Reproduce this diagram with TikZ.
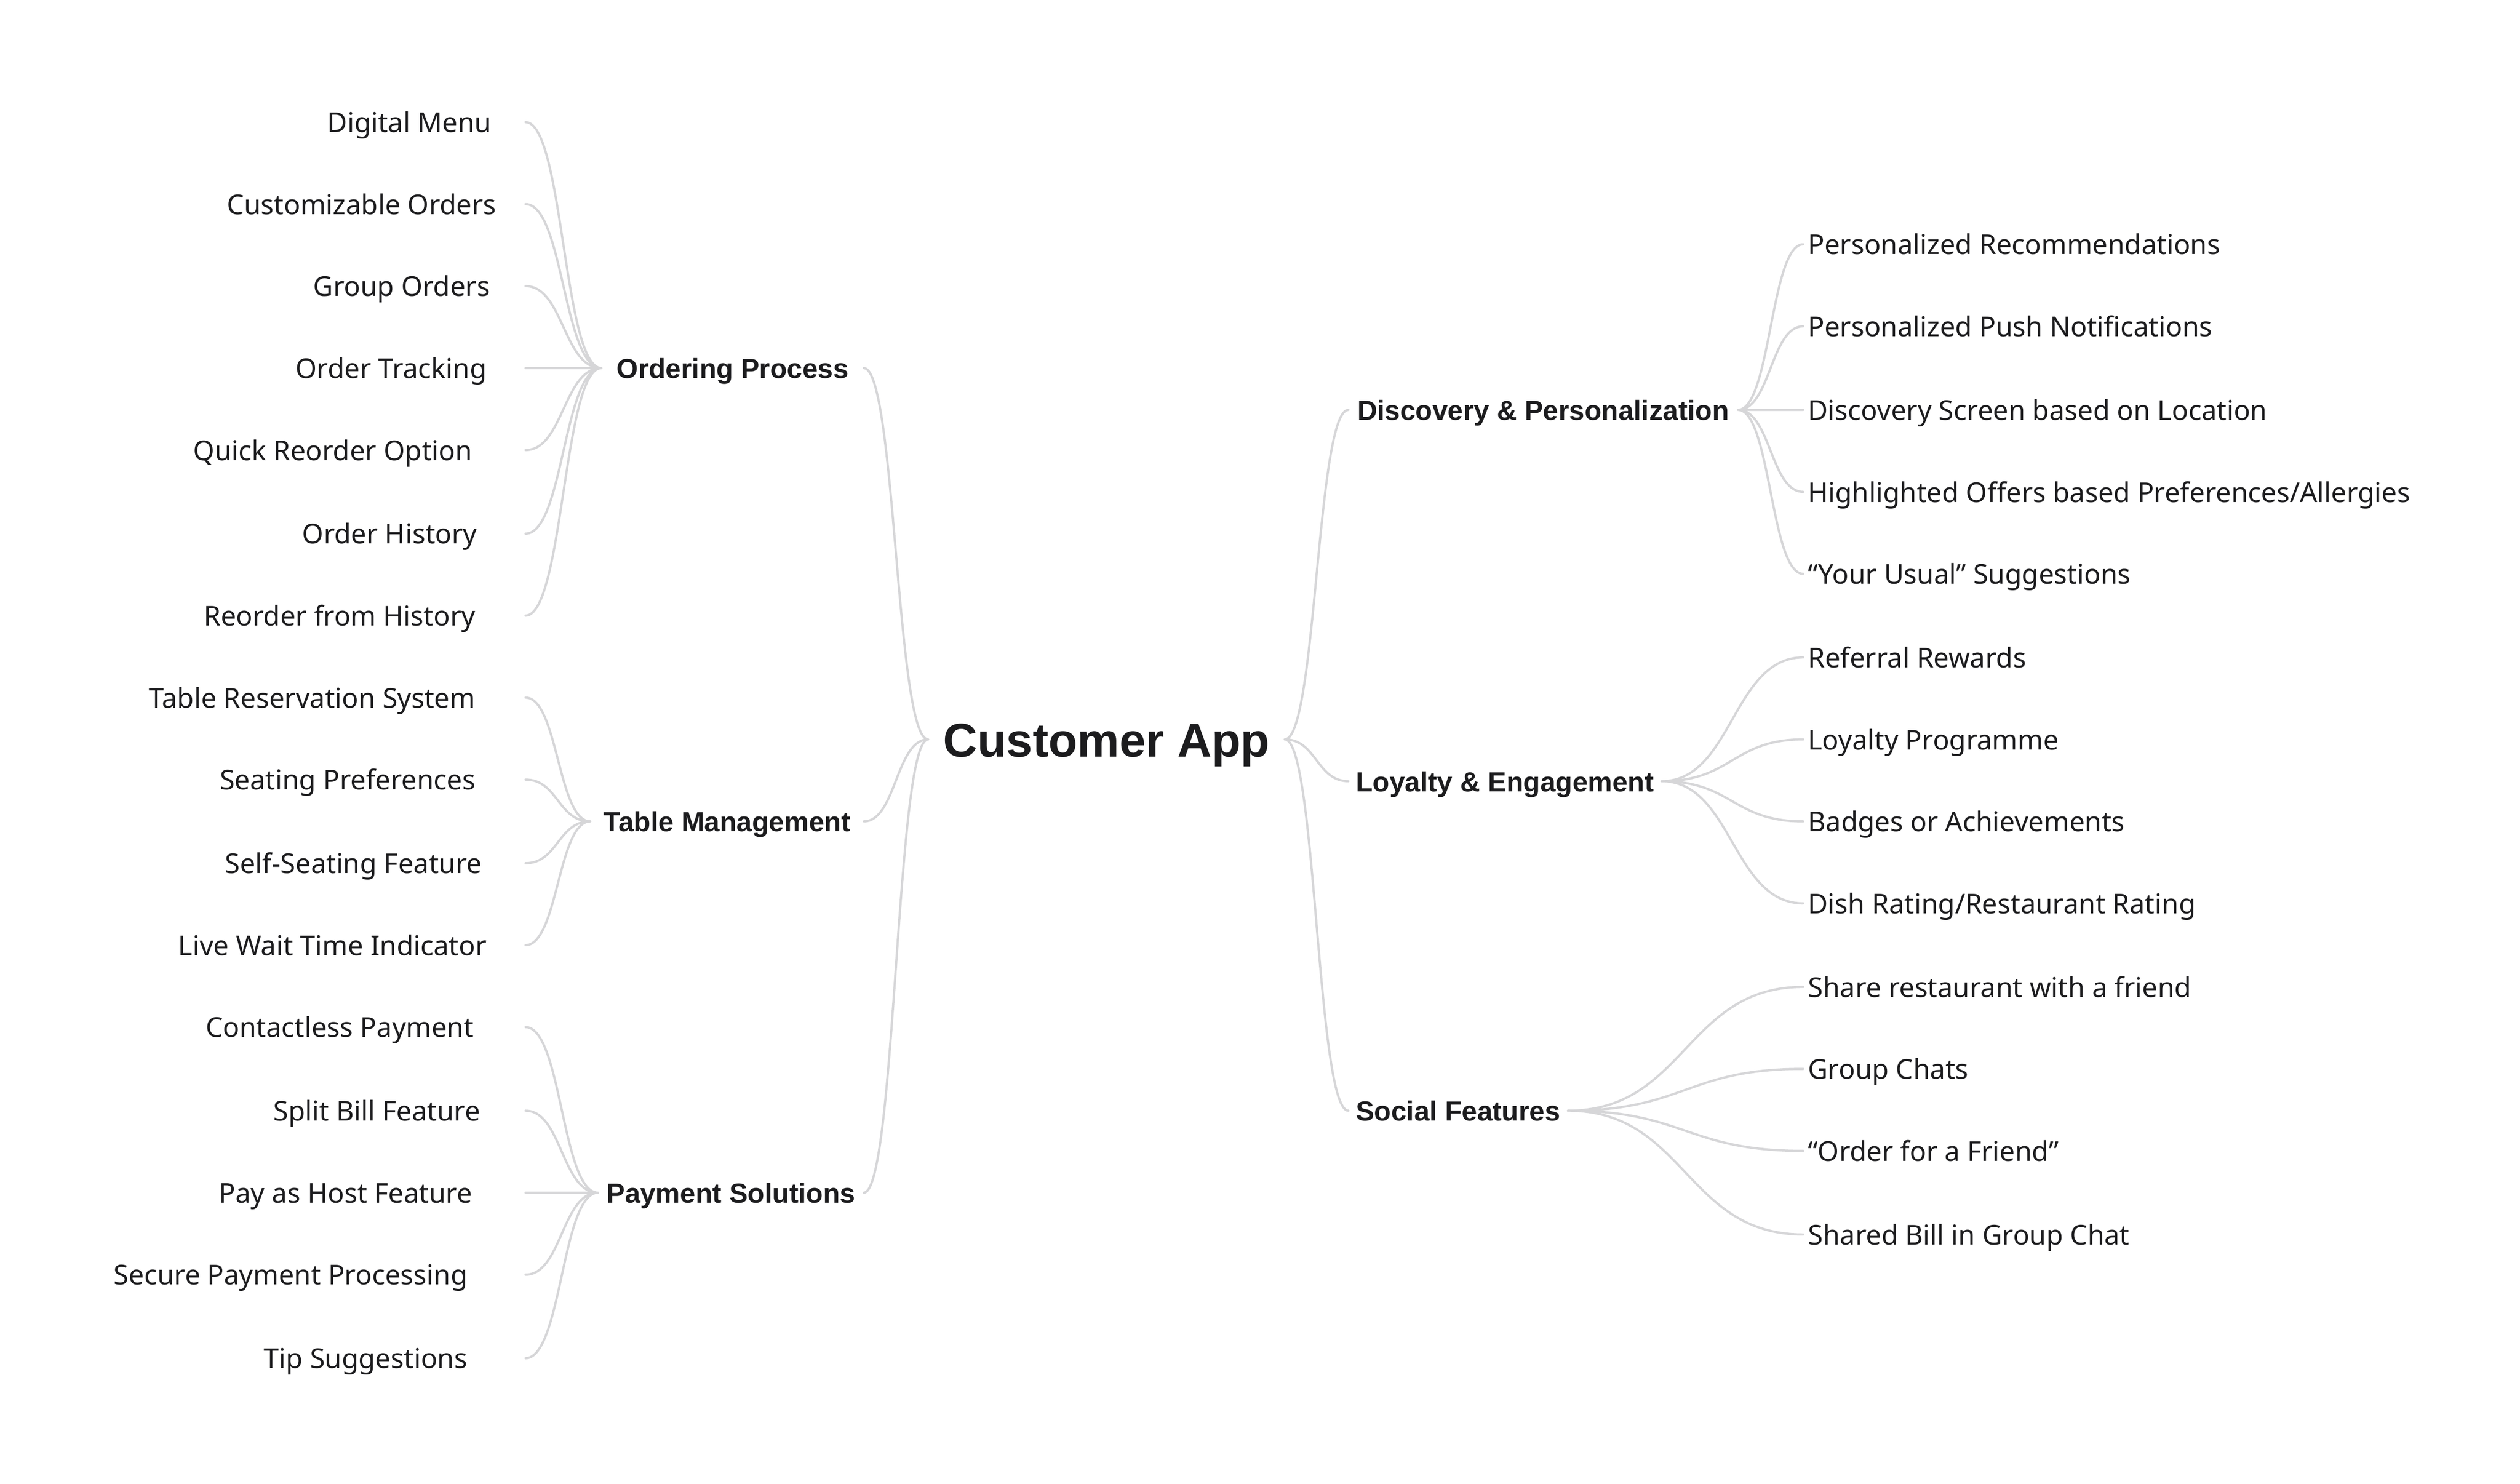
\documentclass[tikz,border=0pt]{standalone}
\usepackage{fontspec}
\setmainfont{Noto Sans}[BoldFont={Liberation Sans Bold}]
\usetikzlibrary{calc}
\definecolor{ink}{HTML}{1C1C1E}
\definecolor{linkgray}{HTML}{D6D6D8}
\tikzset{
  link/.style={draw=linkgray,line width=1.4pt,line cap=round,
    to path={let \p1=(\tikztostart), \p2=(\tikztotarget) in
      .. controls ({(\x1+\x2)/2},\y1) and ({(\x1+\x2)/2},\y2) .. (\tikztotarget)}},
  leaf/.style={text=ink,font=\fontsize{17}{20}\selectfont,text height=12.7pt,text depth=0pt,inner ysep=0pt},
  leafL/.style={leaf,anchor=east},
  leafR/.style={leaf,anchor=west,inner xsep=2.8pt},
  branch/.style={leaf,font=\fontsize{17.2}{20}\selectfont\bfseries,inner xsep=4.5pt},
  hub/.style={text=ink,font=\fontsize{29.5}{32}\selectfont\bfseries,text height=21.5pt,text depth=0pt,inner sep=0pt}
}
\begin{document}
\begin{tikzpicture}[x=1pt,y=-1pt]
        \fill[white] (0,0) rectangle (1568,923);
        \useasboundingbox (0,0) rectangle (1568,923);
        % root
        \node[hub,anchor=west,minimum width=221.5pt] (app) at (577.5,460) {Customer App};
        % main branches
        \node[branch,anchor=east,minimum width=162.9pt] (order) at (537.5,229) {Ordering Process};
        \node[branch,anchor=east,minimum width=169.8pt] (table) at (537.5,511) {Table Management};
        \node[branch,anchor=east,minimum width=165pt] (pay) at (537.5,742) {Payment Solutions};
        \node[branch,anchor=west,minimum width=242pt] (disc) at (839,255) {Discovery \& Personalization};
        \node[branch,anchor=west,minimum width=189pt] (loyal) at (839,486) {Loyalty \& Engagement};
        \node[branch,anchor=west,minimum width=131.5pt] (social) at (839,691) {Social Features};
        % ordering
        \node[leafL,inner xsep=21pt] (menu) at (327,76) {Digital Menu};
        \node[leafL,inner xsep=18pt] (custom) at (327,127) {Customizable Orders};
        \node[leafL,inner xsep=22pt] (group) at (327,178) {Group Orders};
        \node[leafL,inner xsep=24pt] (track) at (327,229) {Order Tracking};
        \node[leafL,inner xsep=33pt] (quick) at (327,280) {Quick Reorder Option};
        \node[leafL,inner xsep=30pt] (hist) at (327,332) {Order History};
        \node[leafL,inner xsep=31pt] (reord) at (327,383) {Reorder from History};
        % table
        \node[leafL,inner xsep=31pt] (reserve) at (327,434) {Table Reservation System};
        \node[leafL,inner xsep=31pt] (seatpref) at (327,485) {Seating Preferences};
        \node[leafL,inner xsep=27pt] (selfseat) at (327,537) {Self-Seating Feature};
        \node[leafL,inner xsep=24pt] (wait) at (327,588) {Live Wait Time Indicator};
        % payment
        \node[leafL,inner xsep=32pt] (contact) at (327,639) {Contactless Payment};
        \node[leafL,inner xsep=28pt] (split) at (327,691) {Split Bill Feature};
        \node[leafL,inner xsep=33pt] (host) at (327,742) {Pay as Host Feature};
        \node[leafL,inner xsep=36pt] (secure) at (327,793) {Secure Payment Processing};
        \node[leafL,inner xsep=36pt] (tip) at (327,845) {Tip Suggestions};
        % discovery
        \node[leafR] (recs) at (1122,152) {Personalized Recommendations};
        \node[leafR] (push) at (1122,203) {Personalized Push Notifications};
        \node[leafR] (screen) at (1122,255) {Discovery Screen based on Location};
        \node[leafR] (offers) at (1122,306) {Highlighted Offers based Preferences/Allergies};
        \node[leafR] (usual) at (1122,357) {“Your Usual” Suggestions};
        % loyalty
        \node[leafR] (refer) at (1122,409) {Referral Rewards};
        \node[leafR] (prog) at (1122,460) {Loyalty Programme};
        \node[leafR] (badge) at (1122,511) {Badges or Achievements};
        \node[leafR] (rate) at (1122,562) {Dish Rating/Restaurant Rating};
        % social
        \node[leafR] (share) at (1122,614) {Share restaurant with a friend};
        \node[leafR] (chats) at (1122,665) {Group Chats};
        \node[leafR] (friend) at (1122,716) {“Order for a Friend”};
        \node[leafR] (bill) at (1122,768) {Shared Bill in Group Chat};
        % links
        \draw[link] (app.west) to (order.east) (app.west) to (table.east) (app.west) to (pay.east);
        \draw[link] (app.east) to (disc.west) (app.east) to (loyal.west) (app.east) to (social.west);
        \draw[link] (order.west) to (menu.east) (order.west) to (custom.east) (order.west) to (group.east)
            (order.west) to (track.east) (order.west) to (quick.east) (order.west) to (hist.east)
            (order.west) to (reord.east);
        \draw[link] (table.west) to (reserve.east) (table.west) to (seatpref.east)
            (table.west) to (selfseat.east) (table.west) to (wait.east);
        \draw[link] (pay.west) to (contact.east) (pay.west) to (split.east) (pay.west) to (host.east)
            (pay.west) to (secure.east) (pay.west) to (tip.east);
        \draw[link] (disc.east) to (recs.west) (disc.east) to (push.west) (disc.east) to (screen.west)
            (disc.east) to (offers.west) (disc.east) to (usual.west);
        \draw[link] (loyal.east) to (refer.west) (loyal.east) to (prog.west) (loyal.east) to (badge.west)
            (loyal.east) to (rate.west);
        \draw[link] (social.east) to (share.west) (social.east) to (chats.west) (social.east) to (friend.west)
            (social.east) to (bill.west);
    \end{tikzpicture}
\end{document}
